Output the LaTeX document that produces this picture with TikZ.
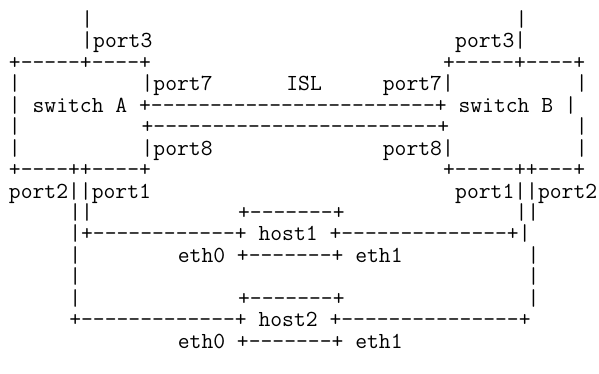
\documentclass[tikz,border=0pt]{standalone}
\newcommand{\asciifont}{\fontsize{22.97}{24}\selectfont\ttfamily}
\tikzset{ascii/.style={font=\asciifont, inner sep=0pt, outer sep=0pt, anchor=base west}}

\begin{document}
\begin{tikzpicture}[x=12.06pt, y=-21.45pt]
  \useasboundingbox (-9pt,5pt) rectangle (590pt,-369pt);
  % Uplinks on port3
  \node[ascii] (upA) at (6,1) {|};
  \node[ascii] (upB) at (42,1) {|};
  \node[ascii] (p3A) at (6,2) {|port3};
  \node[ascii] (p3B) at (37,2) {port3|};

  % Switch A, switch B and the ISL
  \node[ascii] (topA) at (0,3) {+-----+----+};
  \node[ascii] (topB) at (36,3) {+-----+----+};
  \node[ascii] (sideA4) at (0,4) {|};
  \node[ascii] (p7A) at (11,4) {|port7};
  \node[ascii] (isl) at (23,4) {ISL};
  \node[ascii] (p7B) at (31,4) {port7|};
  \node[ascii] (sideB4) at (47,4) {|};
  \node[ascii] (swAB) at (0,5) {| switch A +------------------------+ switch B |};
  \node[ascii] (sideA6) at (0,6) {|};
  \node[ascii] (isl8) at (11,6) {+------------------------+};
  \node[ascii] (sideB6) at (47,6) {|};
  \node[ascii] (sideA7) at (0,7) {|};
  \node[ascii] (p8A) at (11,7) {|port8};
  \node[ascii] (p8B) at (31,7) {port8|};
  \node[ascii] (sideB7) at (47,7) {|};
  \node[ascii] (botA) at (0,8) {+----++----+};
  \node[ascii] (botB) at (36,8) {+-----++---+};
  \node[ascii] (p21A) at (0,9) {port2||port1};
  \node[ascii] (p12B) at (37,9) {port1||port2};

  % host1
  \node[ascii] (downA10) at (5,10) {||};
  \node[ascii] (topH1) at (19,10) {+-------+};
  \node[ascii] (downB10) at (42,10) {||};
  \node[ascii] (host1) at (5,11) {|+------------+ host1 +--------------+|};
  \node[ascii] (downA12) at (5,12) {|};
  \node[ascii] (ethH1) at (14,12) {eth0 +-------+ eth1};
  \node[ascii] (downB12) at (43,12) {|};
  \node[ascii] (downA13) at (5,13) {|};
  \node[ascii] (downB13) at (43,13) {|};

  % host2
  \node[ascii] (downA14) at (5,14) {|};
  \node[ascii] (topH2) at (19,14) {+-------+};
  \node[ascii] (downB14) at (43,14) {|};
  \node[ascii] (host2) at (5,15) {+-------------+ host2 +---------------+};
  \node[ascii] (ethH2) at (14,16) {eth0 +-------+ eth1};
\end{tikzpicture}
\end{document}
